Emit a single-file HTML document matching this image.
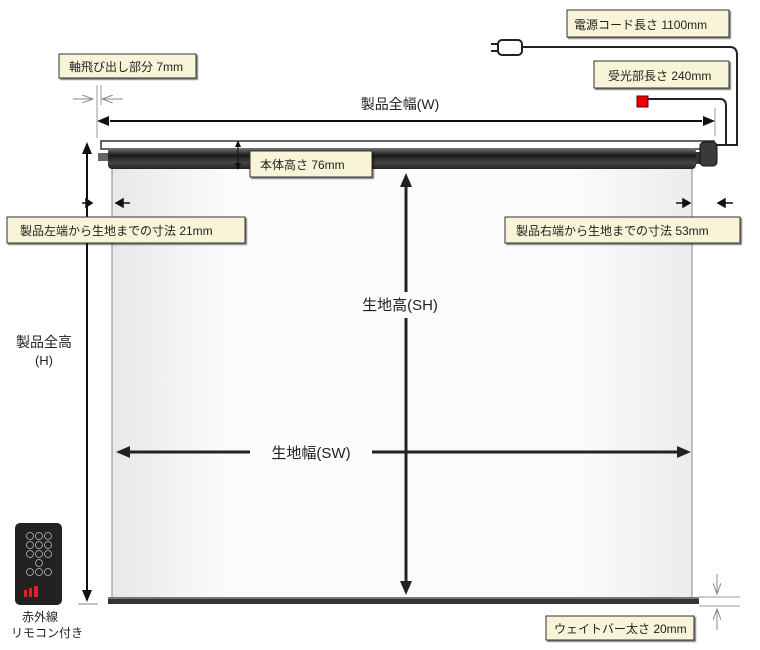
<!DOCTYPE html>
<html><head><meta charset="utf-8"><style>
body{margin:0;background:#fff}
svg{display:block;font-family:"Liberation Sans","Noto Sans CJK JP",sans-serif}
.lb{fill:#f8f4d8;stroke:#333;stroke-width:1}
.t{font-size:12px;fill:#222}
</style></head><body>
<svg width="760" height="650" viewBox="0 0 760 650">
<defs>
<linearGradient id="rol" x1="0" y1="0" x2="0" y2="1"><stop offset="0" stop-color="#777"/><stop offset=".35" stop-color="#1a1a1a"/><stop offset=".7" stop-color="#444"/><stop offset="1" stop-color="#222"/></linearGradient>
<linearGradient id="scr" x1="0" y1="0" x2="1" y2="0"><stop offset="0" stop-color="#e8e8e8"/><stop offset=".2" stop-color="#fbfbfb"/><stop offset=".8" stop-color="#fbfbfb"/><stop offset="1" stop-color="#ececec"/></linearGradient>
<filter id="sh"><feDropShadow dx="1.5" dy="1.5" stdDeviation="0.6" flood-color="#000" flood-opacity=".5"/></filter>
<marker id="g" markerWidth="12" markerHeight="8" refX="11" refY="4" orient="auto" markerUnits="userSpaceOnUse"><path d="M0,0 L11,4 L0,8" fill="none" stroke="#888"/></marker>
</defs>
<rect x="112" y="168" width="580" height="431" fill="url(#scr)" stroke="#888" stroke-width="1"/>
<rect x="101" y="141" width="613" height="8" fill="#fff" stroke="#333" stroke-width="1.5"/>
<rect x="98" y="153" width="10" height="8" fill="#666"/>
<rect x="108" y="148" width="588" height="21" rx="4" fill="url(#rol)"/>
<rect x="696" y="152" width="6" height="12" fill="#333"/>
<rect x="700" y="142" width="17" height="24" rx="4" fill="#3a3a3a" stroke="#111"/>
<rect x="108" y="597" width="591" height="7" fill="#333"/>
<rect x="108" y="597" width="591" height="2" fill="#777"/>
<path d="M522,47 H730 Q737,47 737,55 V145 H717" fill="none" stroke="#222" stroke-width="2"/>
<path d="M647,99 H720 Q726,99 726,106 V145" fill="none" stroke="#222" stroke-width="2"/>
<rect x="498" y="40" width="24" height="15" rx="4" fill="#fff" stroke="#222" stroke-width="2"/>
<path d="M491,44 H498 M491,51 H498" stroke="#222" stroke-width="2"/>
<rect x="637" y="96" width="11" height="11" fill="#e00" stroke="#600"/>
<line x1="97" y1="85" x2="97" y2="138" stroke="#999"/>
<line x1="715" y1="108" x2="715" y2="136" stroke="#999"/>
<line x1="110" y1="121" x2="702" y2="121" stroke="#111" stroke-width="2"/>
<path d="M97,121 l12,-5 v10z M715,121 l-12,-5 v10z" fill="#111"/>
<rect x="345" y="94" width="110" height="18" fill="#fff"/>
<text x="400" y="109" text-anchor="middle" font-size="14" fill="#222">製品全幅(W)</text>
<line x1="73" y1="99" x2="93" y2="99" stroke="#888" marker-end="url(#g)"/>
<line x1="123" y1="99" x2="102" y2="99" stroke="#888" marker-end="url(#g)"/>
<line x1="101" y1="85" x2="101" y2="105" stroke="#999"/>
<line x1="87" y1="153" x2="87" y2="592" stroke="#111" stroke-width="2"/>
<path d="M87,142 l-5,12 h10z M87,602 l-5,-12 h10z" fill="#111"/>
<line x1="78" y1="604" x2="98" y2="604" stroke="#888"/>
<text x="44" y="347" text-anchor="middle" font-size="14" fill="#222">製品全高</text>
<text x="44" y="365" text-anchor="middle" font-size="13" fill="#222">(H)</text>
<path d="M82,203 h10 M92,203 l-6,-4 v8z" stroke="#111" stroke-width="1.5" fill="#111"/>
<path d="M130,203 h-10 M116,203 l7,-4 v8z" stroke="#111" stroke-width="1.5" fill="#111"/>
<path d="M676,203 h10 M690,203 l-7,-4 v8z" stroke="#111" stroke-width="1.5" fill="#111"/>
<path d="M733,203 h-10 M718,203 l7,-4 v8z" stroke="#111" stroke-width="1.5" fill="#111"/>
<line x1="238" y1="143" x2="238" y2="167" stroke="#111" stroke-width="1"/>
<path d="M238,140 l-3,7 h6z M238,170 l-3,-7 h6z" fill="#111"/>
<line x1="406" y1="186" x2="406" y2="292" stroke="#222" stroke-width="3"/>
<line x1="406" y1="318" x2="406" y2="582" stroke="#222" stroke-width="3"/>
<path d="M406,173 l-6,14 h12z M406,595 l-6,-14 h12z" fill="#222"/>
<text x="400" y="310" text-anchor="middle" font-size="15" fill="#222">生地高(SH)</text>
<line x1="130" y1="452" x2="250" y2="452" stroke="#222" stroke-width="3"/>
<line x1="372" y1="452" x2="677" y2="452" stroke="#222" stroke-width="3"/>
<path d="M116,452 l14,-6 v12z M691,452 l-14,-6 v12z" fill="#222"/>
<text x="311" y="458" text-anchor="middle" font-size="15" fill="#222">生地幅(SW)</text>
<line x1="699" y1="597" x2="740" y2="597" stroke="#999"/>
<line x1="699" y1="606" x2="740" y2="606" stroke="#999"/>
<line x1="717" y1="574" x2="717" y2="594" stroke="#888" marker-end="url(#g)"/>
<line x1="717" y1="630" x2="717" y2="609" stroke="#888" marker-end="url(#g)"/>
<g filter="url(#sh)">
<rect class="lb" x="567" y="10" width="162" height="27"/>
<rect class="lb" x="594" y="61" width="135" height="27"/>
<rect class="lb" x="59" y="54" width="137" height="24"/>
<rect class="lb" x="250" y="151" width="122" height="26"/>
<rect class="lb" x="7" y="217" width="238" height="26"/>
<rect class="lb" x="505" y="217" width="235" height="26"/>
<rect class="lb" x="546" y="616" width="148" height="24"/>
</g>
<text class="t" x="574" y="29">電源コード長さ 1100mm</text>
<text class="t" x="608" y="80">受光部長さ 240mm</text>
<text class="t" x="69" y="71">軸飛び出し部分 7mm</text>
<text class="t" x="260" y="169">本体高さ 76mm</text>
<text class="t" x="20" y="235">製品左端から生地までの寸法 21mm</text>
<text class="t" x="516" y="235">製品右端から生地までの寸法 53mm</text>
<text class="t" x="554" y="633">ウェイトバー太さ 20mm</text>
<rect x="15" y="523" width="47" height="82" rx="5" fill="#222"/>
<g fill="none" stroke="#bbb" stroke-width=".8">
<circle cx="30" cy="536" r="3.5"/><circle cx="39" cy="536" r="3.5"/><circle cx="48" cy="536" r="3.5"/>
<circle cx="30" cy="545" r="3.5"/><circle cx="39" cy="545" r="3.5"/><circle cx="48" cy="545" r="3.5"/>
<circle cx="30" cy="554" r="3.5"/><circle cx="39" cy="554" r="3.5"/><circle cx="48" cy="554" r="3.5"/>
<circle cx="39" cy="563" r="3.5"/>
<circle cx="30" cy="572" r="3.5"/><circle cx="39" cy="572" r="3.5"/><circle cx="48" cy="572" r="3.5"/>
</g>
<rect x="24" y="590" width="3" height="7" fill="#d22"/><rect x="29" y="588" width="3" height="9" fill="#d22"/><rect x="34" y="586" width="4" height="11" fill="#d22"/>
<text x="40" y="621" text-anchor="middle" font-size="12" fill="#222">赤外線</text>
<text x="47" y="637" text-anchor="middle" font-size="12" fill="#222">リモコン付き</text>
</svg>
</body></html>
